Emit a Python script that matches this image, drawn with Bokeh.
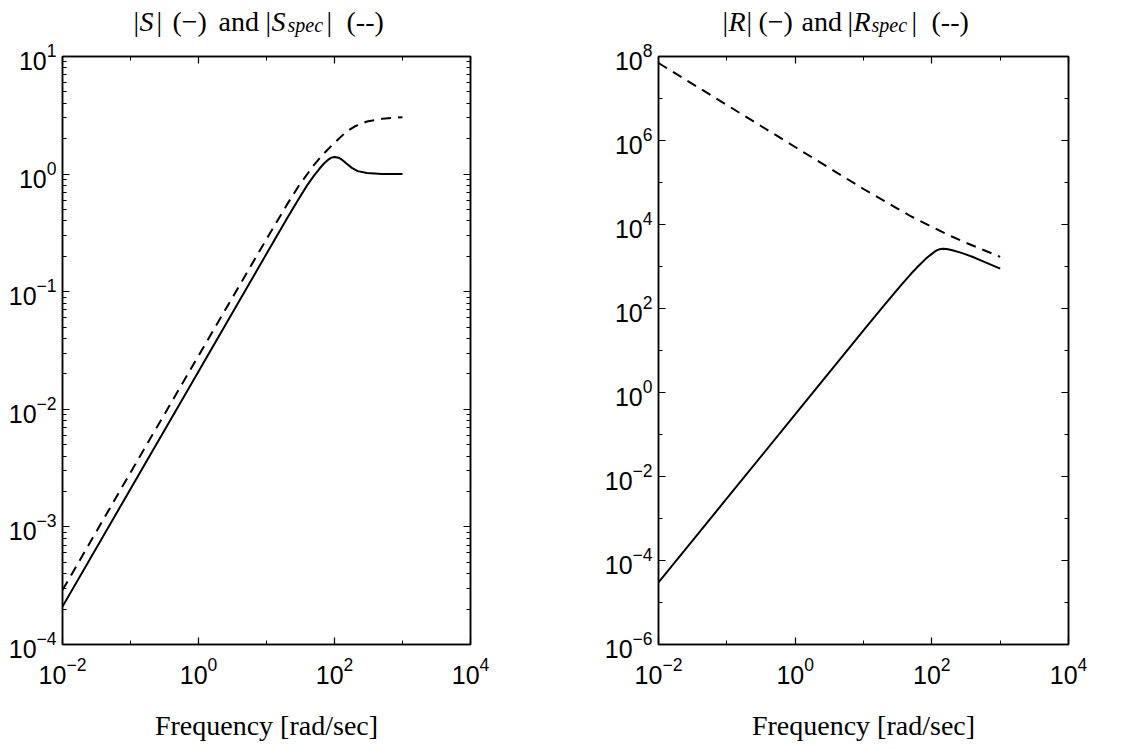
from bokeh.plotting import figure
from bokeh.layouts import row, column
from bokeh.models import Range1d, FixedTicker, LogAxis, Label, CustomJSTickFormatter
from bokeh.embed import file_html
from bokeh.resources import INLINE

# ---- data ----
w_S = [0.01, 0.1, 1, 10, 20, 30, 40, 50, 60, 70, 80, 90, 100, 115, 130, 150, 180, 220, 300, 500, 1000]
S_mag = [2.1e-4, 2.1e-3, 2.1e-2, 0.21, 0.42, 0.62, 0.81, 0.97, 1.11, 1.23, 1.32, 1.38, 1.40, 1.38, 1.32, 1.23, 1.13, 1.06, 1.02, 1.0, 1.0]

w_Sspec = [0.01, 0.1, 1, 10, 20, 30, 50, 70, 100, 150, 200, 300, 500, 1000]
Sspec_mag = [2.9e-4, 2.9e-3, 2.85e-2, 0.28, 0.55, 0.8, 1.2, 1.5, 1.85, 2.3, 2.55, 2.8, 2.95, 3.05]

w_R = [0.01, 0.1, 1, 10, 20, 35, 50, 60, 70, 80, 90, 100, 110, 120, 130, 145, 165, 200, 250, 300, 400, 500, 700, 1000]
R_mag = [3e-5, 3e-3, 0.3, 30, 118, 350, 680, 930, 1200, 1480, 1750, 2000, 2250, 2450, 2580, 2650, 2600, 2430, 2200, 2000, 1680, 1440, 1140, 890]

w_Rspec = [0.01, 0.1, 1, 10, 30, 50, 100, 200, 300, 500, 1000]
Rspec_mag = [7e7, 7e6, 7e5, 7e4, 2.5e4, 1.55e4, 8.8e3, 5.1e3, 3.8e3, 2.7e3, 1.7e3]

x_major = [1e-2, 1e0, 1e2, 1e4]
x_minor = [1e-1, 1e1, 1e3]
yL_major = [1e-4, 1e-3, 1e-2, 1e-1, 1e0, 1e1]
yR_major = [1e-6, 1e-4, 1e-2, 1e0, 1e2, 1e4, 1e6, 1e8]
yR_minor = [1e-5, 1e-3, 1e-1, 1e1, 1e3, 1e5, 1e7]

# title pieces: (text, x position on page, italic, subscript)
title_pieces = [("|", 133, False, False), ("S", 139, True, False), ("|", 156, False, False),
                ("(\u2212)", 172, False, False), ("and", 218, False, False),
                ("|", 265, False, False), ("S", 271, True, False), ("spec", 287, True, True),
                ("|", 326, False, False), ("(--)", 346, False, False),
                ("|", 722, False, False), ("R", 728, True, False), ("|", 746, False, False),
                ("(\u2212)", 758, False, False), ("and", 801, False, False),
                ("|", 847, False, False), ("R", 853, True, False), ("spec", 871, True, True),
                ("|", 911, False, False), ("(--)", 931, False, False)]
xlabel = "Frequency [rad/sec]"

W = 1130
TOP_H = 38
BOT_H = 49
FH = 588
SERIF = "Liberation Serif"
SANS = "Liberation Sans"


def style_axis(ax, labels=True):
    ax.major_tick_in = 7
    ax.major_tick_out = 0
    ax.minor_tick_in = 4
    ax.minor_tick_out = 0
    ax.axis_line_color = "black"
    ax.axis_line_width = 1.5
    ax.major_tick_line_color = "black"
    ax.minor_tick_line_color = "black"
    ax.major_tick_line_width = 1.2
    ax.minor_tick_line_width = 1.0
    ax.major_label_text_font = SANS
    ax.major_label_text_font_size = "25px"
    ax.major_label_text_color = "black"
    if not labels:
        ax.formatter = CustomJSTickFormatter(code="return ''")
        ax.major_label_text_font_size = "0px"
        ax.major_label_standoff = 0


def make_fig(fw, bl, br, yr, ymaj, ymin, curves):
    p = figure(frame_width=fw, frame_height=FH, x_axis_type="log", y_axis_type="log",
               x_range=Range1d(1e-2, 1e4), y_range=Range1d(*yr),
               output_backend="svg", toolbar_location=None,
               min_border_left=bl, min_border_right=br, min_border_top=18, min_border_bottom=56)
    p.grid.visible = False
    p.background_fill_color = "white"
    p.border_fill_color = "white"
    p.outline_line_color = "black"
    p.outline_line_width = 1.5
    p.xaxis.ticker = FixedTicker(ticks=x_major, minor_ticks=x_minor)
    p.yaxis.ticker = FixedTicker(ticks=ymaj, minor_ticks=ymin)
    for ax in p.xaxis:
        style_axis(ax)
        ax.major_label_standoff = 12
    for ax in p.yaxis:
        style_axis(ax)
        ax.major_label_standoff = 6
    top = LogAxis(ticker=FixedTicker(ticks=x_major, minor_ticks=x_minor))
    style_axis(top, labels=False)
    p.add_layout(top, "above")
    right = LogAxis(ticker=FixedTicker(ticks=ymaj, minor_ticks=ymin))
    style_axis(right, labels=False)
    p.add_layout(right, "right")
    (w1, m1), (w2, m2) = curves
    p.line(w1, m1, line_color="black", line_width=2)
    p.line(w2, m2, line_color="black", line_width=2, line_dash="10 7")
    return p


def text_strip(h):
    s = figure(width=W, height=h, x_range=Range1d(0, W), y_range=Range1d(0, h),
               x_axis_location=None, y_axis_location=None, min_border=0,
               output_backend="svg", toolbar_location=None)
    s.grid.visible = False
    s.outline_line_color = None
    s.background_fill_color = "white"
    s.border_fill_color = "white"
    return s


yL_minor = [m * 10.0 ** e for e in range(-4, 1) for m in range(2, 10)]
p1 = make_fig(408, 62, 98, (1e-4, 1e1), yL_major, yL_minor,
              [(w_S, S_mag), (w_Sspec, Sspec_mag)])
p2 = make_fig(410, 90, 62, (1e-6, 1e8), yR_major, yR_minor,
              [(w_R, R_mag), (w_Rspec, Rspec_mag)])

top = text_strip(TOP_H)
for txt, x, ital, sub in title_pieces:
    top.add_layout(Label(x=x, y=17 - (3 if sub else 0), text=txt, text_font=SERIF,
                         text_font_size="20px" if sub else "28px",
                         text_font_style="italic" if ital else "normal",
                         text_color="black", text_baseline="alphabetic", text_align="left"))

bot = text_strip(BOT_H)
for cx in (266, 863):
    bot.add_layout(Label(x=cx, y=24, text=xlabel, text_font=SERIF, text_font_size="28px",
                         text_color="black", text_baseline="alphabetic", text_align="center"))

layout = column(top, row(p1, p2), bot)
open("out.html", "w").write(file_html(layout, INLINE))
